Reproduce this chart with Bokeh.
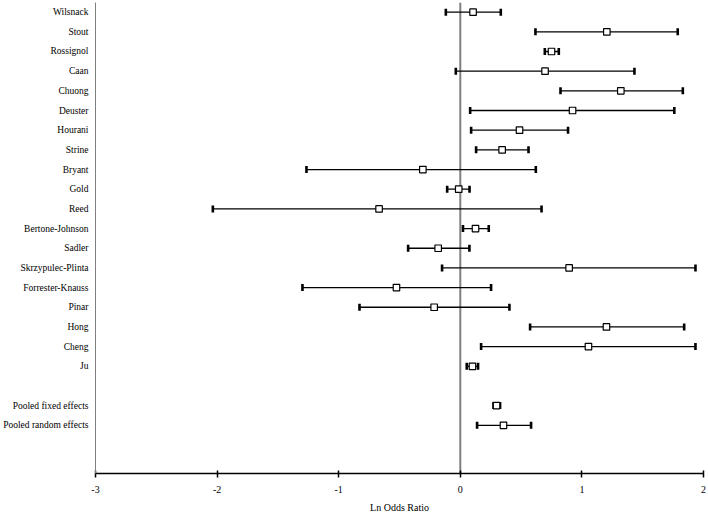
from bokeh.plotting import figure
from bokeh.models import ColumnDataSource, Range1d, FixedTicker, Span, Whisker, TeeHead
from bokeh.embed import file_html
from bokeh.resources import INLINE

# ---- data ----
studies = ["Wilsnack", "Stout", "Rossignol", "Caan", "Chuong", "Deuster", "Hourani",
           "Strine", "Bryant", "Gold", "Reed", "Bertone-Johnson", "Sadler",
           "Skrzypulec-Plinta", "Forrester-Knauss", "Pinar", "Hong", "Cheng", "Ju"]
study_ln_or = [0.105, 1.205, 0.75, 0.697, 1.32, 0.923, 0.487, 0.344, -0.308, -0.013,
               -0.668, 0.125, -0.182, 0.895, -0.525, -0.215, 1.202, 1.054, 0.1]
study_lower = [-0.119, 0.618, 0.695, -0.037, 0.824, 0.081, 0.089, 0.13, -1.265, -0.108,
               -2.035, 0.022, -0.429, -0.15, -1.298, -0.829, 0.574, 0.171, 0.053]
study_upper = [0.333, 1.788, 0.81, 1.432, 1.83, 1.76, 0.886, 0.561, 0.621, 0.076,
               0.668, 0.234, 0.075, 1.934, 0.253, 0.404, 1.841, 1.934, 0.146]

pooled = ["Pooled fixed effects", "Pooled random effects"]
pooled_ln_or = [0.298, 0.355]
pooled_lower = [0.273, 0.138]
pooled_upper = [0.327, 0.582]

x_ticks = [-3, -2, -1, 0, 1, 2]
x_tick_labels = ["-3", "-2", "-1", "0", "1", "2"]
x_title = "Ln Odds Ratio"

# ---- layout of rows (one blank row before the pooled estimates) ----
names = studies + pooled
rows = list(range(len(studies))) + [len(studies) + 1 + i for i in range(len(pooled))]
src = ColumnDataSource(dict(
    y=rows,
    est=study_ln_or + pooled_ln_or,
    lo=study_lower + pooled_lower,
    hi=study_upper + pooled_upper,
))

FONT = "Liberation Serif"

p = figure(width=708, height=516, output_backend="svg", toolbar_location=None,
           x_range=Range1d(-3, 2), y_range=Range1d(23.45, -0.49),
           min_border_left=95, min_border_right=5, min_border_top=2, min_border_bottom=43)
p.outline_line_color = None
p.grid.visible = False
p.background_fill_color = "white"

# zero reference line
p.add_layout(Span(location=0, dimension="height", level="underlay",
                  line_color="#7f7f7f", line_width=2))

# confidence intervals with end caps
head_lo = TeeHead(size=7, line_width=2.6, line_color="black")
head_hi = TeeHead(size=7, line_width=2.6, line_color="black")
p.add_layout(Whisker(source=src, base="y", lower="lo", upper="hi", dimension="width",
                     line_color="black", line_width=1.3,
                     lower_head=head_lo, upper_head=head_hi))

# point estimates
p.scatter("est", "y", source=src, marker="square", size=6.5,
          fill_color="white", line_color="black", line_width=1.2)

# x axis
xa = p.xaxis[0]
xa.ticker = FixedTicker(ticks=x_ticks)
xa.major_label_overrides = {t: l for t, l in zip(x_ticks, x_tick_labels)}
xa.minor_tick_line_color = None
xa.axis_line_color = "black"
xa.axis_line_width = 1.5
xa.major_tick_line_color = "black"
xa.major_tick_line_width = 1.5
xa.major_tick_in = 3
xa.major_tick_out = 4
xa.major_label_standoff = 8
xa.major_label_text_font = FONT
xa.major_label_text_font_size = "10px"
xa.major_label_text_color = "black"
xa.axis_label = x_title
xa.axis_label_text_font = FONT
xa.axis_label_text_font_size = "10px"
xa.axis_label_text_font_style = "normal"
xa.axis_label_text_color = "black"
xa.axis_label_standoff = 6

# y axis with study names
ya = p.yaxis[0]
ya.ticker = FixedTicker(ticks=rows)
ya.major_label_overrides = {r: n for r, n in zip(rows, names)}
ya.axis_line_color = "#7f7f7f"
ya.axis_line_width = 1
ya.major_tick_line_color = None
ya.minor_tick_line_color = None
ya.major_tick_in = 0
ya.major_tick_out = 0
ya.major_label_standoff = 7
ya.major_label_text_font = FONT
ya.major_label_text_font_size = "9.5px"
ya.major_label_text_color = "black"

open("out.html", "w").write(file_html(p, INLINE))
